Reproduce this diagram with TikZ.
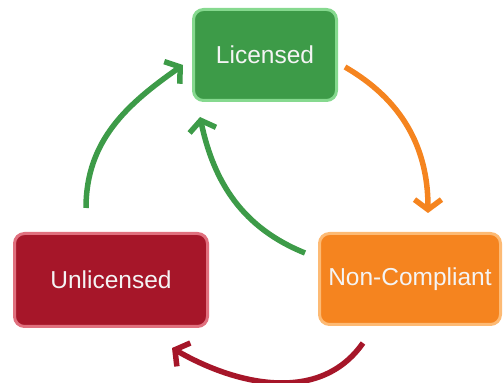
\documentclass[tikz,border=0pt]{standalone}
\usepackage{fontspec}
\setmainfont{Liberation Sans}
\usetikzlibrary{calc,arrows.meta}
\definecolor{licfill}{HTML}{3D9B48}
\definecolor{licedge}{HTML}{86D98F}
\definecolor{unfill}{HTML}{A61629}
\definecolor{unedge}{HTML}{E0707E}
\definecolor{ncfill}{HTML}{F5841F}
\definecolor{ncedge}{HTML}{FDBA74}
\definecolor{text}{HTML}{F4F4F4}
\tikzset{
  box/.style={rounded corners=10pt, line width=3pt, inner sep=0pt, text=text, font=\fontsize{24.5}{28}\selectfont},
  arr/.style={line width=5.5pt, -{Straight Barb[length=10pt,width=27pt]}},
}
\begin{document}
\begin{tikzpicture}[x=1pt,y=1pt]
  \useasboundingbox (0,0) rectangle (504,383);
  \node[box, fill=licfill, draw=licedge, minimum width=143, minimum height=91] (lic) at (265,328) {Licensed};
  \node[box, fill=unfill, draw=unedge, minimum width=193, minimum height=93] (unlic) at (111,103) {Unlicensed};
  \node[box, fill=ncfill, draw=ncedge, minimum width=181, minimum height=91] (noncomp) at (410,104) {Non-Compliant};
  \draw[arr, draw=licfill] ($(unlic.north)+(-25,24)$) to[out=90,in=215] ($(lic.west)+(-9,-10)$);
  \draw[arr, draw=ncfill] ($(lic.east)+(7,-12)$) to[out=-30,in=90] ($(noncomp.north)+(18,19)$);
  \draw[arr, draw=licfill] ($(noncomp.west)+(-13,26)$) to[out=158,in=-78] ($(lic.south west)+(8,-15)$);
  \draw[arr, draw=unfill] ($(noncomp.south)+(-47,-17)$) to[out=235,in=-30] ($(unlic.south east)+(-37,-20)$);
\end{tikzpicture}
\end{document}
